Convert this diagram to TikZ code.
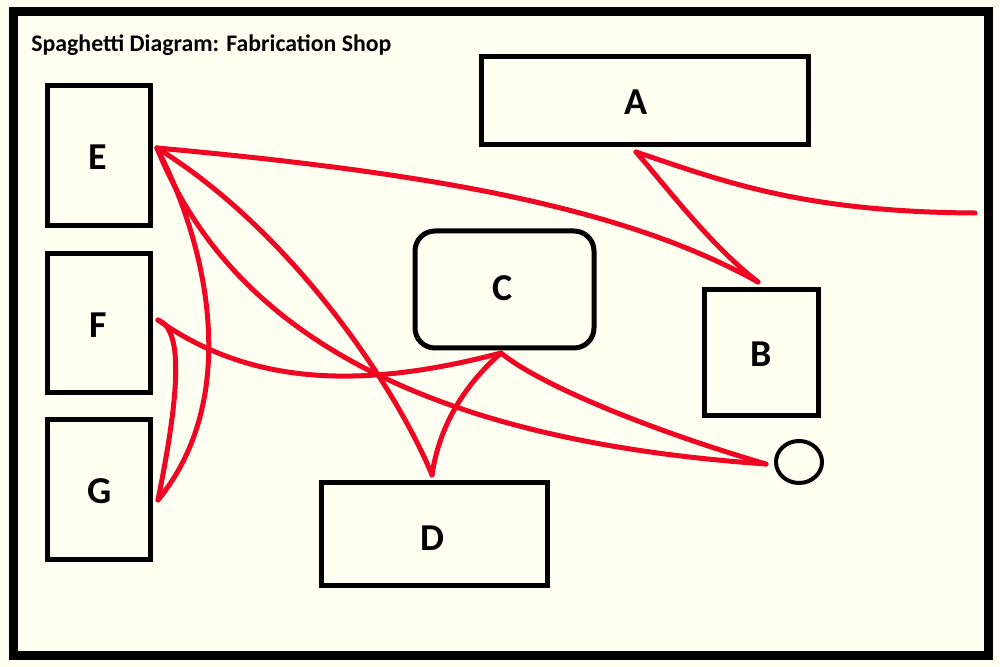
\documentclass[tikz,border=0pt]{standalone}
\usepackage{fontspec}
\setmainfont{Carlito}
\usetikzlibrary{shapes.geometric}
\definecolor{paintred}{RGB}{238,6,34}
\definecolor{ivorybg}{RGB}{255,255,242}
\begin{document}
\begin{tikzpicture}[x=0.5pt,y=-0.5pt,
  box/.style={draw=black,line width=2.5pt,inner sep=0pt},
  lbl/.style={font=\bfseries\fontsize{19}{22}\selectfont,inner sep=0pt},
  route/.style={draw=paintred,line width=2.5pt,line cap=round,line join=round}]
\fill[ivorybg] (0,0) rectangle (1000,667);
\useasboundingbox (0,0) rectangle (1000,667);
\draw[line width=4.5pt] (13.5,12) rectangle (988,655);
\node[anchor=base west,inner sep=0pt,font=\bfseries\fontsize{11.9}{14}\selectfont] (title) at (31,52) {Spaghetti Diagram: Fabrication Shop};
% stations
\node[box,minimum width=163.5pt,minimum height=44pt] (A) at (644.5,101) {};
\node[box,minimum width=51.5pt,minimum height=70pt] (E) at (98.5,156) {};
\node[box,minimum width=51.5pt,minimum height=69.5pt] (F) at (98.5,323.5) {};
\node[box,minimum width=51.5pt,minimum height=69.5pt] (G) at (98.5,489.5) {};
\node[box,rounded corners=10pt,minimum width=89.5pt,minimum height=58.5pt] (C) at (504.5,289.5) {};
\node[box,minimum width=57pt,minimum height=63pt] (B) at (761,353) {};
\node[box,minimum width=113pt,minimum height=51.5pt] (D) at (434,533.5) {};
\node[draw=black,line width=2pt,ellipse,inner sep=0pt,minimum width=23pt,minimum height=21pt] (O) at (799,462) {};
% labels
\node[lbl] (Alab) at (636,102) {A};
\node[lbl] (Elab) at (98,157) {E};
\node[lbl] (Flab) at (98,325) {F};
\node[lbl] (Glab) at (100,491) {G};
\node[lbl] (Clab) at (503,288) {C};
\node[lbl] (Blab) at (761,354) {B};
\node[lbl] (Dlab) at (432,538) {D};
% route points
\coordinate (e1) at (157,148);
\coordinate (b1) at (758,282);
\coordinate (a1) at (636,152);
\coordinate (r1) at (975,213);
\coordinate (c1) at (501,353);
\coordinate (d1) at (432,475);
\coordinate (o1) at (766,464);
\coordinate (f1) at (158,320);
\coordinate (g1) at (158,500);
% routes
\draw[route] (e1) .. controls (420,172) and (620,205) .. (b1);
\draw[route] (b1) .. controls (710,245) and (665,185) .. (a1);
\draw[route] (a1) .. controls (720,180) and (800,212) .. (r1);
\draw[route] (e1) .. controls (210,250) and (240,400) .. (g1);
\draw[route] (g1) .. controls (178,400) and (185,330) .. (f1);
\draw[route] (f1) .. controls (250,385) and (360,390) .. (c1);
\draw[route] (c1) .. controls (470,380) and (440,420) .. (d1);
\draw[route] (d1) .. controls (395,385) and (290,230) .. (e1);
\draw[route] (e1) .. controls (230,330) and (420,440) .. (o1);
\draw[route] (c1) .. controls (540,385) and (650,430) .. (o1);
\end{tikzpicture}
\end{document}
